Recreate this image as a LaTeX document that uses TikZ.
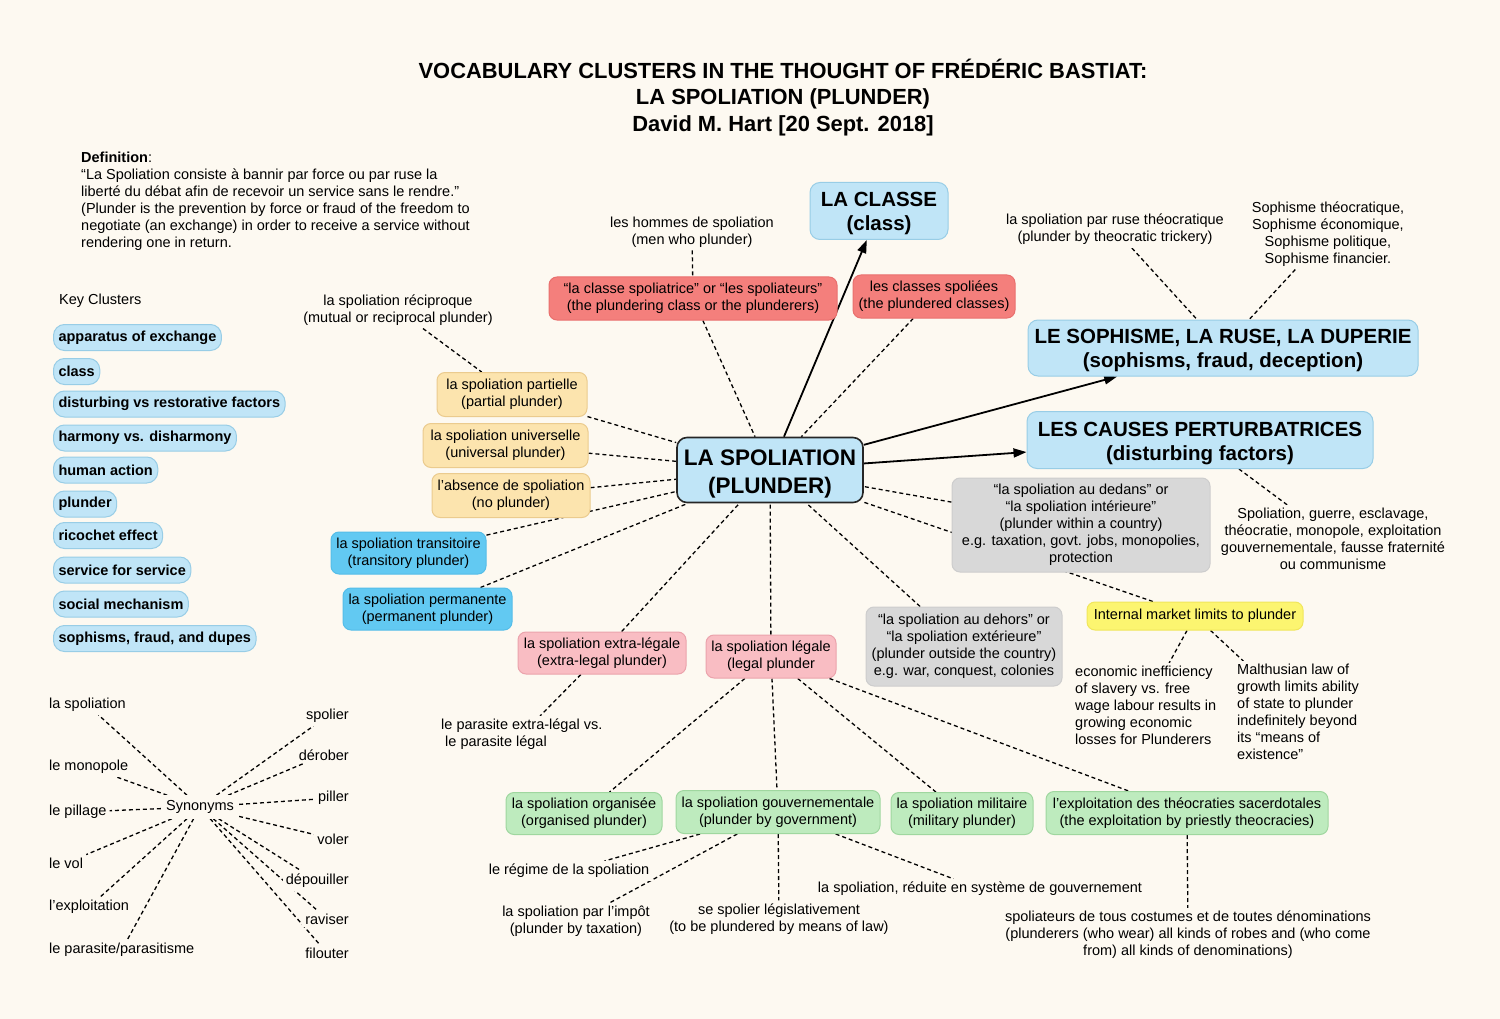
\documentclass[tikz,border=0pt]{standalone}
\usepackage{fontspec}
\setmainfont{Liberation Sans}
\usetikzlibrary{arrows.meta,calc}
\pgfdeclarelayer{bgl}
\pgfdeclarelayer{edgel}
\pgfsetlayers{bgl,edgel,main}
\definecolor{bgc}{HTML}{FDF9F1}
\definecolor{lblue}{HTML}{C0E5F7}
\definecolor{lblueb}{HTML}{98CDE6}
\definecolor{bblue}{HTML}{62C9F2}
\definecolor{bblueb}{HTML}{55BDE8}
\definecolor{redc}{HTML}{F47F7C}
\definecolor{redb}{HTML}{E9706E}
\definecolor{orangec}{HTML}{FCE4AE}
\definecolor{orangeb}{HTML}{EBCB8E}
\definecolor{pinkc}{HTML}{F9BDC3}
\definecolor{pinkb}{HTML}{EBA3AC}
\definecolor{grayc}{HTML}{D8D8D8}
\definecolor{grayb}{HTML}{CDCDCD}
\definecolor{yellowc}{HTML}{FCF570}
\definecolor{yellowb}{HTML}{F0E65C}
\definecolor{greenc}{HTML}{BEEBBE}
\definecolor{greenb}{HTML}{9FD79F}
\newcommand\myfs{\fontsize{14.5}{17}\selectfont}
\newcommand\mybfs{\fontsize{14.5}{17}\selectfont\bfseries}
\newcommand\mybig{\fontsize{20.5}{24}\selectfont\bfseries}
\newcommand\mycen{\fontsize{22.5}{28}\selectfont\bfseries}
\newcommand\mytitle{\fontsize{21.9}{26.5}\selectfont\bfseries}
\newcommand\mydn[1]{\rule{0pt}{#1}}
\tikzset{
  box/.style={rounded corners=8pt, draw, line width=1pt, align=center, inner sep=2pt, font=\myfs},
  bigbox/.style={box, fill=lblue, draw=lblueb, font=\mybig, rounded corners=10pt},
  cenbox/.style={box, fill=lblue, draw=black!85, line width=1.6pt, font=\mycen, rounded corners=10pt},
  clus/.style={fill=lblue, draw=lblueb, line width=1pt, rounded corners=11pt, font=\mybfs, anchor=west, minimum height=26pt, inner xsep=5pt, inner ysep=0pt},
  orbox/.style={box, fill=orangec, draw=orangeb},
  rdbox/.style={box, fill=redc, draw=redb},
  bbbox/.style={box, fill=bblue, draw=bblueb},
  pkbox/.style={box, fill=pinkc, draw=pinkb},
  grbox/.style={box, fill=grayc, draw=grayb},
  ylbox/.style={box, fill=yellowc, draw=yellowb},
  gnbox/.style={box, fill=greenc, draw=greenb},
  txt/.style={align=center, font=\myfs, fill=bgc, inner sep=3pt},
  dl/.style={draw=black, line width=1.3pt, dash pattern=on 4pt off 3pt},
  arr/.style={draw=black, line width=1.8pt, -{Triangle[length=13pt,width=9pt]}}
}
\begin{document}
\begin{tikzpicture}[x=1pt,y=-1pt]
\useasboundingbox (0,0) rectangle (1500,1019);
\begin{pgfonlayer}{bgl}
\fill[bgc] (0,0) rectangle (1500,1019);
\end{pgfonlayer}

% title and definition
\node[align=center, font=\mytitle, inner sep=0pt] (title) at (783,97.5) {VOCABULARY CLUSTERS IN THE THOUGHT OF FRÉDÉRIC BASTIAT:\\LA SPOLIATION (PLUNDER)\\David M. Hart [20 Sept. 2018]};
\node[txt, anchor=north west, align=left] (def) at (78,149) {\textbf{Definition}:\\“La Spoliation consiste à bannir par force ou par ruse la\\liberté du débat afin de recevoir un service sans le rendre.”\\(Plunder is the prevention by force or fraud of the freedom to\\negotiate (an exchange) in order to receive a service without\\rendering one in return.};

% key clusters
\node[txt, anchor=west] (keyc) at (56,301) {Key Clusters};
\node[clus] (c1) at (53,337.5) {apparatus of exchange};
\node[clus] (c2) at (53,371.5) {class};
\node[clus] (c3) at (53,404) {disturbing vs restorative factors};
\node[clus] (c4) at (53,438) {harmony vs. disharmony};
\node[clus] (c5) at (53,470) {human action};
\node[clus] (c6) at (53,504) {plunder};
\node[clus] (c7) at (53,535.5) {ricochet effect};
\node[clus] (c8) at (53,570) {service for service};
\node[clus] (c9) at (53,604) {social mechanism};
\node[clus] (c10) at (53,638.5) {sophisms, fraud, and dupes};

% main boxes
\node[cenbox, minimum width=186pt, minimum height=65pt] (cen) at (770,470) {\mydn{23pt}LA SPOLIATION\\(PLUNDER)};
\node[bigbox, minimum width=138pt, minimum height=57pt] (classe) at (879,211) {\mydn{19pt}LA CLASSE\\(class)};
\node[bigbox, minimum width=390pt, minimum height=56pt] (soph) at (1223,348) {\mydn{19pt}LE SOPHISME, LA RUSE, LA DUPERIE\\(sophisms, fraud, deception)};
\node[bigbox, minimum width=346pt, minimum height=57pt] (causes) at (1200,440) {\mydn{21pt}LES CAUSES PERTURBATRICES\\(disturbing factors)};

% red
\node[rdbox, minimum width=288pt, minimum height=43pt] (spoliatrice) at (693,298.5) {“la classe spoliatrice” or “les spoliateurs”\\(the plundering class or the plunderers)};
\node[rdbox, minimum width=162pt, minimum height=43pt] (spoliees) at (934,296.5) {les classes spoliées\\(the plundered classes)};
\node[txt] (hommes) at (692,232) {les hommes de spoliation\\(men who plunder)};

% orange
\node[txt] (reciproque) at (398,310) {la spoliation réciproque\\(mutual or reciprocal plunder)};
\node[orbox, minimum width=150pt, minimum height=44pt] (partielle) at (512,394.5) {la spoliation partielle\\(partial plunder)};
\node[orbox, minimum width=165pt, minimum height=44pt] (universelle) at (505.5,445.5) {la spoliation universelle\\(universal plunder)};
\node[orbox, minimum width=158pt, minimum height=44pt] (absence) at (511,495.5) {l'absence de spoliation\\(no plunder)};

% bright blue
\node[bbbox, minimum width=155pt, minimum height=42pt] (transitoire) at (408.5,553) {la spoliation transitoire\\(transitory plunder)};
\node[bbbox, minimum width=169pt, minimum height=42pt] (permanente) at (427.5,609) {la spoliation permanente\\(permanent plunder)};

% pink
\node[pkbox, minimum width=168pt, minimum height=42pt] (extra) at (602,653) {la spoliation extra-légale\\(extra-legal plunder)};
\node[pkbox, minimum width=130pt, minimum height=43pt] (legale) at (771,656.5) {la spoliation légale\\(legal plunder};
\node[txt, anchor=north west, align=left] (parasite) at (438,716) {le parasite extra-légal vs.\\\hspace*{4pt}le parasite légal};

% gray
\node[grbox, minimum width=258pt, minimum height=94pt] (dedans) at (1081,525) {“la spoliation au dedans” or\\“la spoliation intérieure”\\(plunder within a country)\\e.g. taxation, govt. jobs, monopolies,\\protection};
\node[grbox, minimum width=196pt, minimum height=79pt] (dehors) at (964,646.5) {“la spoliation au dehors” or\\“la spoliation extérieure”\\(plunder outside the country)\\e.g. war, conquest, colonies};

% yellow
\node[ylbox, minimum width=216pt, minimum height=28pt] (market) at (1195,616) {Internal market limits to plunder};
\node[txt, anchor=north west, align=left] (econ) at (1072,663) {economic inefficiency\\of slavery vs. free\\wage labour results in\\growing economic\\losses for Plunderers};
\node[txt, anchor=north west, align=left] (malthus) at (1234,661) {Malthusian law of\\growth limits ability\\of state to plunder\\indefinitely beyond\\its “means of\\existence”};

% right texts
\node[txt] (ruse) at (1115,229.5) {la spoliation par ruse théocratique\\(plunder by theocratic trickery)};
\node[txt] (sophlist) at (1328,234) {Sophisme théocratique,\\Sophisme économique,\\Sophisme politique,\\Sophisme financier.};
\node[txt] (causetext) at (1333,539) {Spoliation, guerre, esclavage,\\théocratie, monopole, exploitation\\gouvernementale, fausse fraternité\\ou communisme};

% green
\node[gnbox, minimum width=156pt, minimum height=42pt] (organisee) at (584,813.5) {la spoliation organisée\\(organised plunder)};
\node[gnbox, minimum width=204pt, minimum height=43pt] (gouv) at (778,812) {la spoliation gouvernementale\\(plunder by government)};
\node[gnbox, minimum width=142pt, minimum height=42pt] (militaire) at (962,813.5) {la spoliation militaire\\(military plunder)};
\node[gnbox, minimum width=282pt, minimum height=43pt] (exploit) at (1187,813) {l'exploitation des théocraties sacerdotales\\(the exploitation by priestly theocracies)};

% bottom texts
\node[txt] (regime) at (569,871) {le régime de la spoliation};
\node[txt] (impot) at (576,921) {la spoliation par l’impôt\\(plunder by taxation)};
\node[txt] (legis) at (779,919) {se spolier législativement\\(to be plundered by means of law)};
\node[txt] (reduite) at (980,889) {la spoliation, réduite en système de gouvernement};
\node[txt] (spoliateurs) at (1188,935) {spoliateurs de tous costumes et de toutes dénominations\\(plunderers (who wear) all kinds of robes and (who come\\from) all kinds of denominations)};

% synonyms
\node[txt, inner sep=5pt] (syn) at (200,807) {Synonyms};
\node[txt, anchor=west] (sl1) at (46,705) {la spoliation};
\node[txt, anchor=west] (sl2) at (46,767) {le monopole};
\node[txt, anchor=west] (sl3) at (46,812) {le pillage};
\node[txt, anchor=west] (sl4) at (46,863) {le vol};
\node[txt, anchor=west] (sl5) at (46,907) {l’exploitation};
\node[txt, anchor=west] (sl6) at (46,950) {le parasite/parasitisme};
\node[txt, anchor=east] (sr1) at (352,716) {spolier};
\node[txt, anchor=east] (sr2) at (352,755) {dérober};
\node[txt, anchor=east] (sr3) at (352,798) {piller};
\node[txt, anchor=east] (sr4) at (352,839) {voler};
\node[txt, anchor=east] (sr5) at (352,881) {dépouiller};
\node[txt, anchor=east] (sr6) at (352,919) {raviser};
\node[txt, anchor=east] (sr7) at (352,953) {filouter};

\begin{pgfonlayer}{edgel}
\draw[arr] (cen) -- (classe);
\draw[arr] (cen) -- (soph);
\draw[arr] (cen) -- (causes);
\draw[dl] (hommes) -- (spoliatrice);
\draw[dl] (spoliatrice) -- (cen);
\draw[dl] (spoliees) -- (cen);
\draw[dl] (reciproque) -- (partielle);
\draw[dl] (partielle) -- (cen);
\draw[dl] (universelle) -- (cen);
\draw[dl] (absence) -- (cen);
\draw[dl] (transitoire) -- (cen);
\draw[dl] (permanente) -- (cen);
\draw[dl] (extra) -- (cen);
\draw[dl] (legale) -- (cen);
\draw[dl] (dehors) -- (cen);
\draw[dl] (dedans) -- (cen);
\draw[dl] (market) -- (cen);
\draw[dl] (extra) -- (parasite);
\draw[dl] (legale) -- (organisee);
\draw[dl] (legale) -- (gouv);
\draw[dl] (legale) -- (militaire);
\draw[dl] (legale) -- (exploit);
\draw[dl] (gouv) -- (regime);
\draw[dl] (gouv) -- (impot);
\draw[dl] (gouv) -- (legis);
\draw[dl] (gouv) -- (reduite);
\draw[dl] (exploit) -- (spoliateurs);
\draw[dl] (ruse) -- (soph);
\draw[dl] (sophlist) -- (soph);
\draw[dl] (causes) -- (causetext);
\draw[dl] (market) -- (econ);
\draw[dl] (market) -- (malthus);
\foreach \w in {sl1,sl2,sl3,sl4,sl5,sl6,sr1,sr2,sr3,sr4,sr5,sr6,sr7}
  \draw[dl] (syn) -- (\w);
\end{pgfonlayer}
\end{tikzpicture}
\end{document}
